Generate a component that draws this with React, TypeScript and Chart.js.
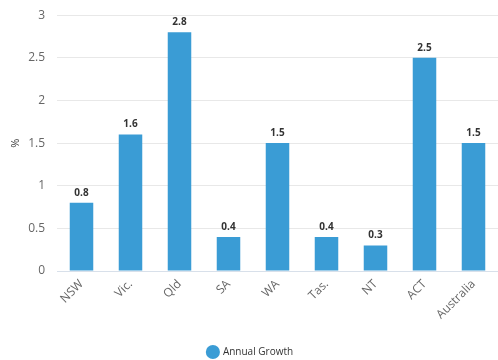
import React, { useEffect, useRef } from "react";
import { Chart, registerables } from "chart.js";

Chart.register(...registerables);

const categories = ["NSW", "Vic.", "Qld", "SA", "WA", "Tas.", "NT", "ACT", "Australia"];
const annualGrowth = [0.8, 1.6, 2.8, 0.4, 1.5, 0.4, 0.3, 2.5, 1.5];
const seriesName = "Annual Growth";
const yTicks = [0, 0.5, 1, 1.5, 2, 2.5, 3];

const FONT = "'Open Sans', 'Noto Sans', sans-serif";
const BAR = "#3a9cd5";

const labelPlugin = {
  id: "barLabels",
  afterDatasetsDraw(chart: any) {
    const ctx = chart.ctx;
    const meta = chart.getDatasetMeta(0);
    ctx.save();
    ctx.font = `bold 10px ${FONT}`;
    ctx.fillStyle = "#333333";
    ctx.textAlign = "center";
    ctx.textBaseline = "bottom";
    meta.data.forEach((bar: any, i: number) => {
      ctx.fillText(String(annualGrowth[i]), bar.x, bar.y - 5);
    });
    ctx.restore();
  },
};

export default function App() {
  const ref = useRef<HTMLCanvasElement | null>(null);
  useEffect(() => {
    document.body.style.margin = "0";
    const chart = new Chart(ref.current!, {
      type: "bar",
      data: {
        labels: categories,
        datasets: [
          {
            label: seriesName,
            data: annualGrowth,
            backgroundColor: BAR,
            borderWidth: 0,
            barPercentage: 0.48,
            categoryPercentage: 1,
          },
        ],
      },
      options: {
        animation: false,
        responsive: false,
        layout: { padding: { left: 3, top: 10, right: 0, bottom: -7 } },
        plugins: {
          legend: {
            position: "bottom",
            labels: {
              usePointStyle: true,
              pointStyle: "circle",
              boxWidth: 14,
              boxHeight: 14,
              color: "#333333",
              font: { family: FONT, size: 10 },
              padding: 10,
            },
          },
          tooltip: { enabled: false },
        },
        scales: {
          x: {
            grid: { display: false, drawTicks: false },
            border: { color: "#d8e0ea" },
            ticks: {
              color: "#666666",
              font: { family: FONT, size: 12 },
              maxRotation: 45,
              minRotation: 45,
              padding: 6,
            },
            afterFit: (axis: any) => {
              axis.height = 66;
            },
          },
          y: {
            min: 0,
            max: 3,
            afterBuildTicks: (axis: any) => {
              axis.ticks = yTicks.map((v) => ({ value: v }));
            },
            afterFit: (axis: any) => {
              axis.width = 54;
            },
            grid: { color: "#e8e8e8", drawTicks: true, tickLength: 4, tickColor: "rgba(0,0,0,0)" },
            border: { display: false },
            ticks: {
              color: "#666666",
              font: { family: FONT, size: 12 },
              padding: 8,
              callback: (v: any) => String(v),
            },
            title: {
              display: true,
              text: "%",
              color: "#333333",
              font: { family: FONT, size: 11 },
              padding: 6,
            },
          },
        },
      },
      plugins: [labelPlugin],
    });
    return () => chart.destroy();
  }, []);
  return <canvas ref={ref} width={498} height={360} style={{ display: "block" }} />;
}
